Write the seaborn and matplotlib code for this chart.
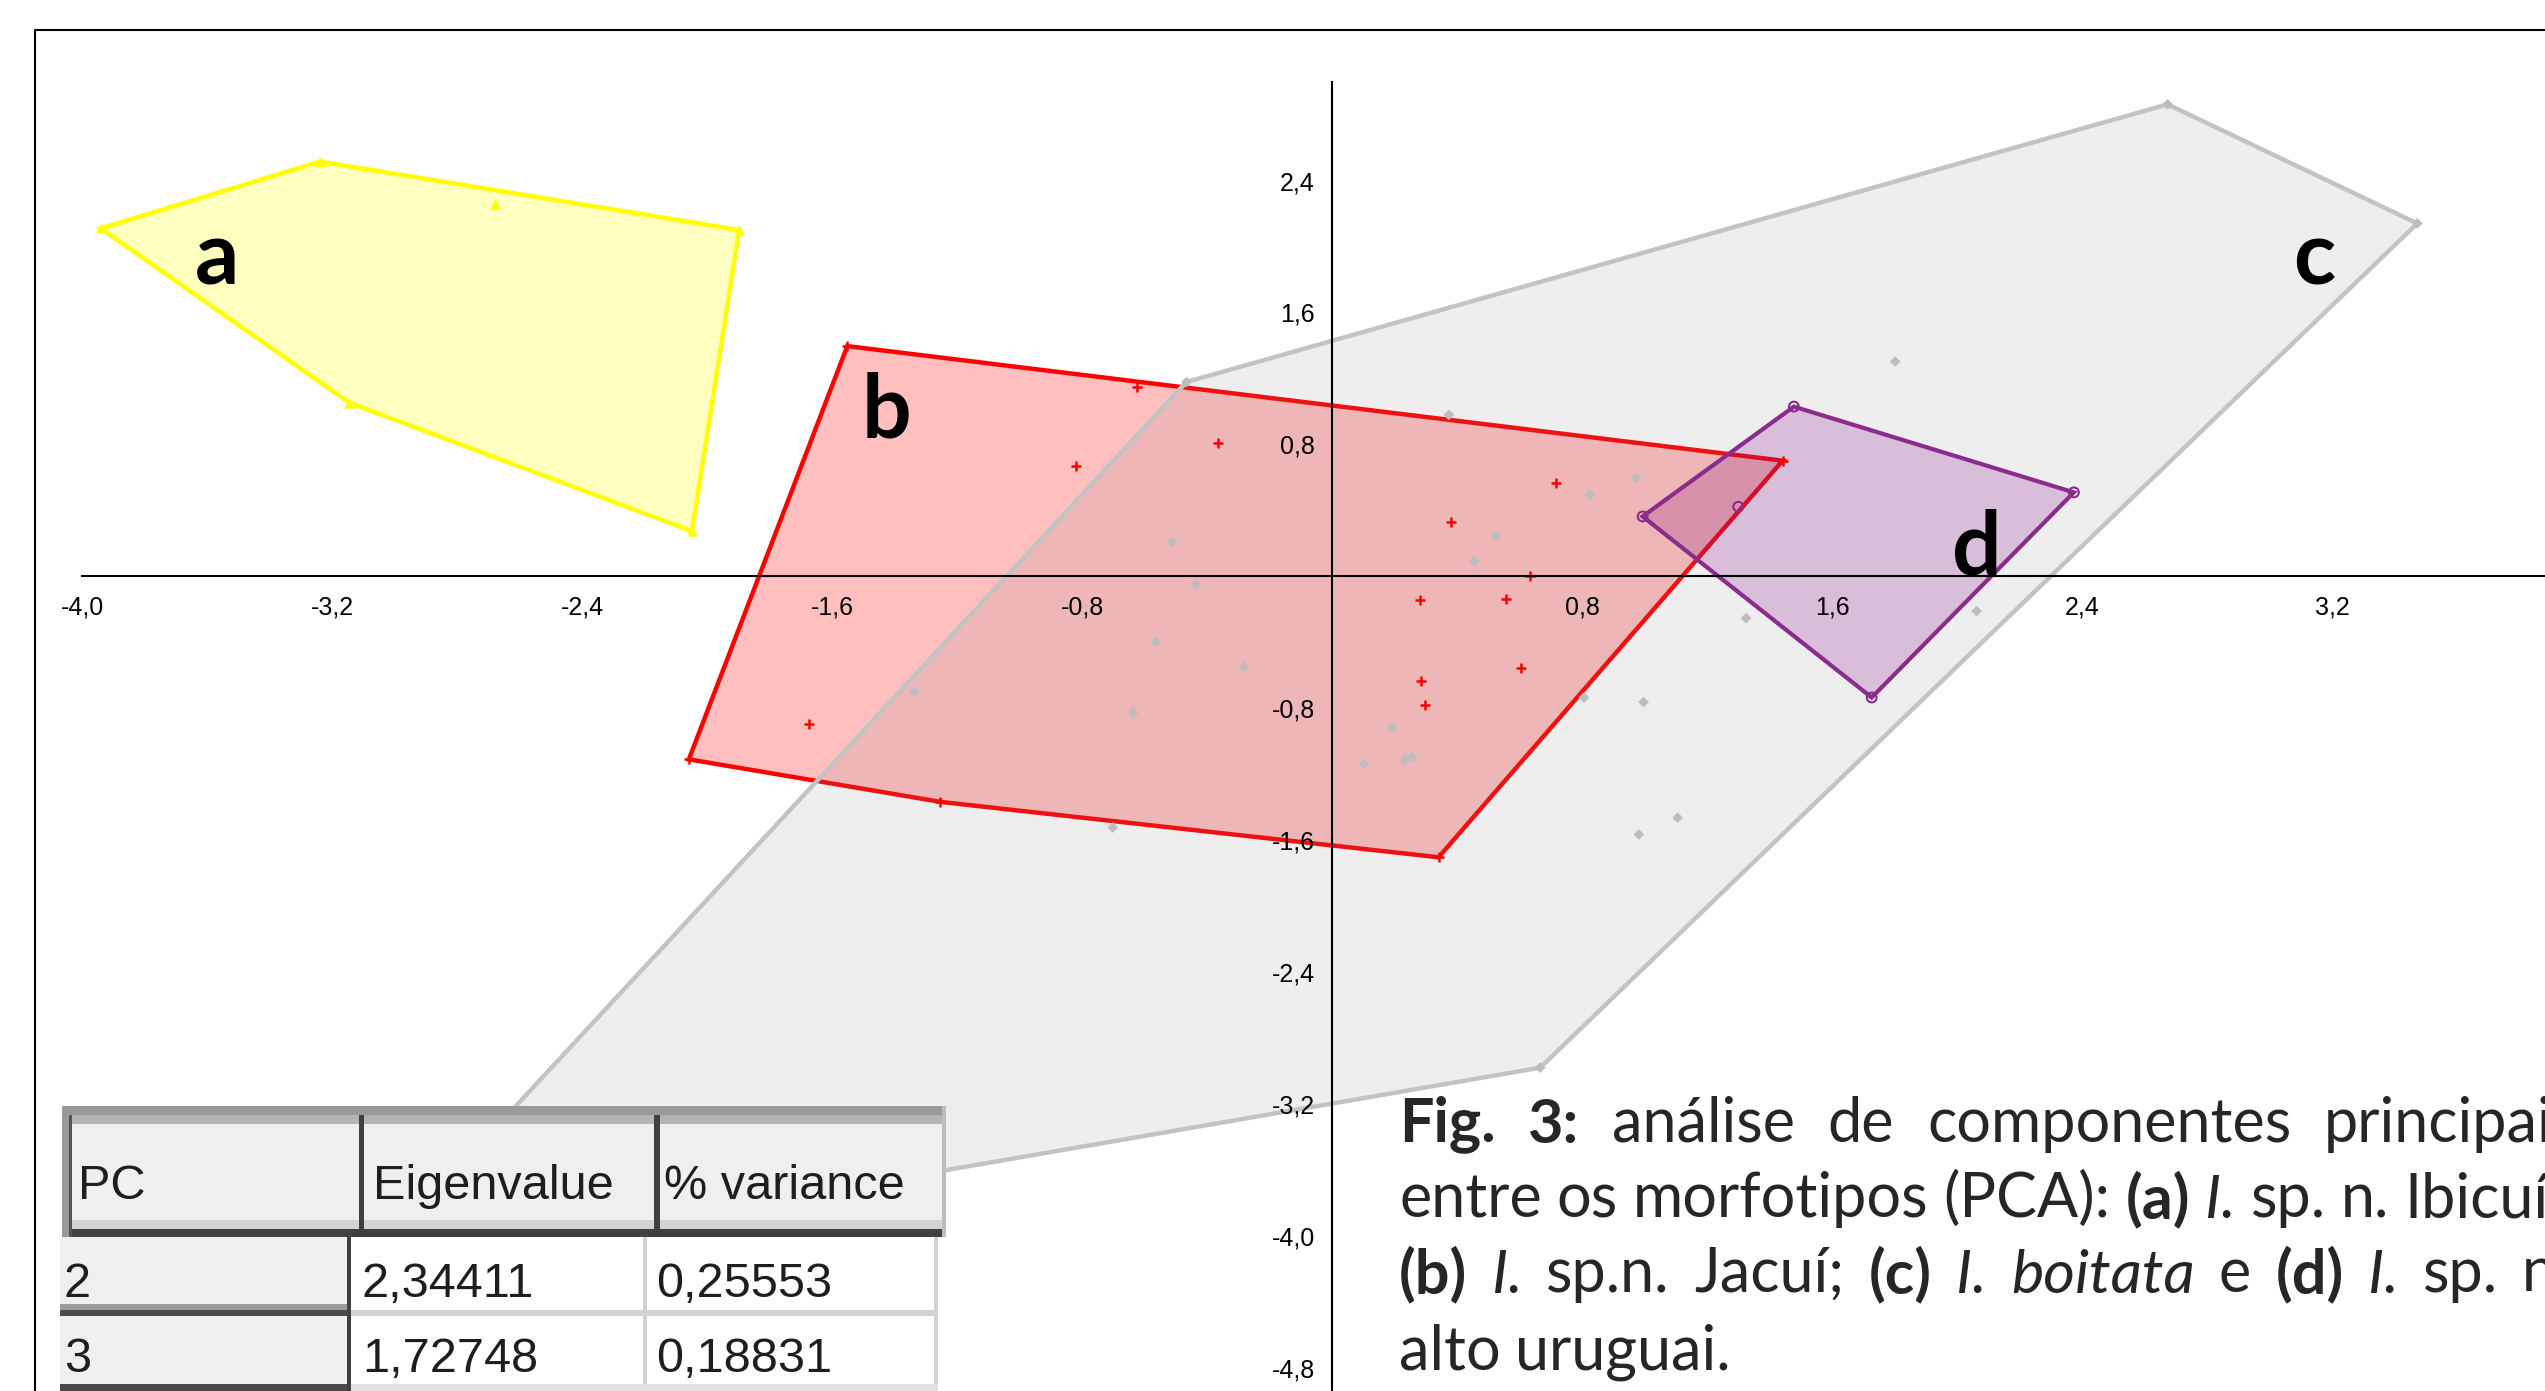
#PCA - morfotipos (a, b, c, d) com cascos convexos e tabela de autovalores
import matplotlib
matplotlib.use('Agg')
import matplotlib.pyplot as plt
from matplotlib.patches import Rectangle
from matplotlib.markers import MarkerStyle
from matplotlib.colors import to_rgba
from matplotlib import font_manager
import seaborn as sns

# Dados (PC2 x PC3)
# (a) I. sp. n. Ibicuí
a_x = [-3.941, -3.239, -1.898, -2.049, -3.146, -2.678]
a_y = [2.110, 2.515, 2.100, 0.273, 1.053, 2.258]

# (b) I. sp.n. Jacuí
b_x = [-1.552, -0.625, -0.366, -0.820, -1.674, -1.254, 0.340, 0.379, 0.717,
       0.634, 0.281, 0.555, 0.603, 0.285, 0.296, 1.441, -2.059]
b_y = [1.396, 1.146, 0.807, 0.668, -0.895, -1.368, -1.704, 0.327, 0.568,
       0.000, -0.146, -0.137, -0.557, -0.633, -0.781, 0.701, -1.110]

# (c) I. boitata
c_x = [-0.467, 2.673, 3.472, 0.665, -3.10, 0.373, -0.511, -0.438, 0.524, 0.454,
       0.824, -0.565, -0.283, -1.337, -0.638, -0.703, 0.805, 0.191, 0.101,
       0.232, 0.256, 1.801, 0.973, 1.324, 2.062, 0.996, 1.105, 0.981]
c_y = [1.178, 2.862, 2.140, -2.98, -4.21, 0.979, 0.206, -0.046, 0.243, 0.093,
       0.492, -0.397, -0.550, -0.700, -0.828, -1.523, -0.735, -0.916, -1.136,
       -1.113, -1.094, 1.302, 0.595, -0.254, -0.211, -0.763, -1.464, -1.566]

# (d) I. sp. n. alto uruguai
d_x = [0.993, 1.477, 2.373, 1.726, 1.299]
d_y = [0.363, 1.029, 0.509, -0.735, 0.422]

x_ticks = [-4.0, -3.2, -2.4, -1.6, -0.8, 0.8, 1.6, 2.4, 3.2]
y_ticks = [2.4, 1.6, 0.8, -0.8, -1.6, -2.4, -3.2, -4.0, -4.8]

# Tabela de autovalores
tab_cabecalho = ['PC', 'Eigenvalue', '% variance']
tab_pc = [2, 3]
tab_autovalor = [2.34411, 1.72748]
tab_variancia = [0.25553, 0.18831]


def virgula(v, casas=1):
    return f'{v:.{casas}f}'.replace('.', ',')


def casco(xs, ys):
    # casco convexo (monotone chain)
    pts = sorted(set(zip(xs, ys)))

    def cruz(o, p, q):
        return (p[0] - o[0]) * (q[1] - o[1]) - (p[1] - o[1]) * (q[0] - o[0])

    baixo, cima = [], []
    for p in pts:
        while len(baixo) >= 2 and cruz(baixo[-2], baixo[-1], p) <= 0:
            baixo.pop()
        baixo.append(p)
    for p in reversed(pts):
        while len(cima) >= 2 and cruz(cima[-2], cima[-1], p) <= 0:
            cima.pop()
        cima.append(p)
    h = baixo[:-1] + cima[:-1]
    return [p[0] for p in h], [p[1] for p in h]


sns.set_style('white')
plt.rcParams['font.family'] = ['Lato', 'DejaVu Sans']

nomes = {f.name for f in font_manager.fontManager.ttflist}
estreita = 'Liberation Sans Narrow' in nomes
fonte_tab = 'Liberation Sans Narrow' if estreita else 'Liberation Sans'
tam_cab, tam_corpo = (42, 42) if estreita else (35, 35)

W, H = 2545, 1391
fig = plt.figure(figsize=(W / 100, H / 100), dpi=100)
ax = fig.add_axes([0, 0, 1, 1])

# Cascos convexos (ordem a, b, c, d)
estilos = [
    (a_x, a_y, '#FFFF00', '#FFFF00', 0.25, 3.2, 2),
    (b_x, b_y, '#FF0000', '#FF0000', 0.25, 3.2, 3),
    (c_x, c_y, '#808080', '#C3C3C3', 0.135, 3.2, 4),
    (d_x, d_y, '#800080', '#8A2B8E', 0.20, 3.0, 5),
]
for xs, ys, face, borda, alfa, lw, z in estilos:
    hx, hy = casco(xs, ys)
    ax.fill(hx, hy, facecolor=to_rgba(face, alfa), edgecolor=borda, lw=lw,
            zorder=z, joinstyle='miter')

# Pontos
sns.scatterplot(x=a_x, y=a_y, marker='^', color='#FFFF00', edgecolor='#FFFF00',
                s=45, ax=ax, zorder=6)
sns.scatterplot(x=b_x, y=b_y, marker='+', color='#FF0000', s=62, linewidth=1.8,
                ax=ax, zorder=6)
sns.scatterplot(x=c_x, y=c_y, marker='D', color='#BDBDBD', edgecolor='none',
                s=30, ax=ax, zorder=6)
sns.scatterplot(x=d_x, y=d_y, marker=MarkerStyle('o', fillstyle='none'),
                color='#8A2B8E', s=50, linewidth=1.5, ax=ax, zorder=6)

# Letras dos grupos
for letra, lx, ly in [('a', -3.57, 1.77), ('b', -1.426, 0.84),
                      ('c', 3.142, 1.77), ('d', 2.063, 0.01)]:
    ax.text(lx, ly, letra, fontsize=63, fontweight='bold', color='black',
            ha='center', va='baseline', zorder=8)

# Eixos cruzando na origem
ax.set_xlim(-4.2634, 3.8806)
ax.set_ylim(-4.9406, 3.4948)
ax.spines['left'].set_position(('data', 0))
ax.spines['bottom'].set_position(('data', 0))
ax.spines['left'].set_bounds(-4.9406, 3.0)
ax.spines['bottom'].set_bounds(-4.0, 3.8806)
ax.spines['top'].set_visible(False)
ax.spines['right'].set_visible(False)
for lado in ['left', 'bottom']:
    ax.spines[lado].set_linewidth(1.5)
    ax.spines[lado].set_color('black')
    ax.spines[lado].set_zorder(7)
ax.xaxis.set_zorder(7)
ax.yaxis.set_zorder(7)
ax.set_xticks(x_ticks, [virgula(v) for v in x_ticks], fontfamily='Liberation Sans')
ax.set_yticks(y_ticks, [virgula(v) for v in y_ticks], fontfamily='Liberation Sans')
ax.tick_params(axis='both', direction='out', length=7.5, width=1.5, labelsize=18,
               colors='black')
ax.tick_params(axis='x', pad=6)
ax.tick_params(axis='y', pad=5)
ax.set_xlabel('')
ax.set_ylabel('')

# Moldura
ax.plot([35 / W, 35 / W, 1.0], [0.0, 1 - 30 / H, 1 - 30 / H], transform=ax.transAxes,
        color='black', lw=1.5, clip_on=False, zorder=9)

# Legenda da figura (palavra por palavra)
kw = {'n': {}, 'b': {'fontweight': 'bold'}, 'i': {'fontstyle': 'italic'}}
linhas = [
    (1141, 23.5, [('Fig.', 'b'), ('3:', 'b'), ('análise', 'n'), ('de', 'n'),
                  ('componentes', 'n'), ('principais', 'n')]),
    (1217, 10.8, [('entre', 'n'), ('os', 'n'), ('morfotipos', 'n'), ('(PCA):', 'n'),
                  ('(a)', 'b'), ('I.', 'i'), ('sp.', 'n'), ('n.', 'n'), ('Ibicuí', 'n')]),
    (1293, 17.5, [('(b)', 'b'), ('I.', 'i'), ('sp.n.', 'n'), ('Jacuí;', 'n'), ('(c)', 'b'),
                  ('I.', 'i'), ('boitata', 'i'), ('e', 'n'), ('(d)', 'b'), ('I.', 'i'),
                  ('sp.', 'n'), ('n.', 'n')]),
    (1370, 10, [('alto', 'n'), ('uruguai.', 'n')]),
]
for yb, gap, palavras in linhas:
    txt, est = palavras[0]
    prev = ax.text(1399 / W, 1 - yb / H, txt, transform=ax.transAxes, fontsize=44,
                   va='baseline', ha='left', zorder=8, **kw[est])
    for txt, est in palavras[1:]:
        prev = ax.annotate(txt, xy=(1, 0), xycoords=prev, xytext=(gap, 0),
                           textcoords='offset points', fontsize=44, va='bottom',
                           ha='left', annotation_clip=False, zorder=8, **kw[est])

# Tabela (coordenadas em pixels)
tab = fig.add_axes([0, 0, 1, 1])
tab.set_xlim(0, W)
tab.set_ylim(H, 0)
tab.axis('off')
tab.patch.set_alpha(0)

blocos = [
    # cabecalho
    (62, 1106, 946, 1237, '#EFEFEF'),
    (62, 1106, 946, 1115, '#999999'),
    (62, 1115, 946, 1124, '#B4B4B4'),
    (62, 1220, 946, 1229, '#D3D3D3'),
    (62, 1229, 946, 1237, '#404040'),
    (62, 1106, 69, 1237, '#999999'),
    (69, 1115, 72, 1237, '#555555'),
    (359, 1115, 364, 1237, '#404040'),
    (654, 1115, 660, 1237, '#404040'),
    (942, 1106, 946, 1237, '#BDBDBD'),
    # corpo
    (60, 1237, 347, H, '#EFEFEF'),
    (351, 1237, 938, H, '#FFFFFF'),
    (347, 1237, 351, H, '#404040'),
    (643, 1237, 647, H, '#D0D0D0'),
    (934, 1237, 938, H, '#D0D0D0'),
    (60, 1304, 347, 1310, '#9A9A9A'),
    (60, 1310, 347, 1316, '#4A4A4A'),
    (351, 1310, 938, 1316, '#D3D3D3'),
    (60, 1384, 347, H, '#4A4A4A'),
    (351, 1384, 938, H, '#E0E0E0'),
]
for x0, y0, x1, y1, cor in blocos:
    tab.add_patch(Rectangle((x0, y0), x1 - x0, y1 - y0, facecolor=cor,
                            edgecolor='none', zorder=1))

for xt, txt in zip([78, 373, 664], tab_cabecalho):
    tab.text(xt, 1199, txt, fontsize=tam_cab, fontfamily=fonte_tab,
             color='#1E1E1E', va='baseline', ha='left', zorder=3)
for yb, pc, ev, var in zip([1297, 1372], tab_pc, tab_autovalor, tab_variancia):
    for xt, txt in zip([64, 362, 656], [str(pc), virgula(ev, 5), virgula(var, 5)]):
        tab.text(xt, yb, txt, fontsize=tam_corpo, fontfamily=fonte_tab,
                 color='#1E1E1E', va='baseline', ha='left', zorder=3)

fig.savefig('out.png', dpi=100)
